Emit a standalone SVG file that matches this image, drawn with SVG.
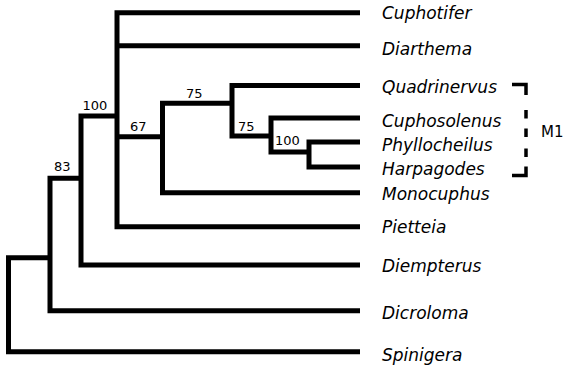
<svg xmlns="http://www.w3.org/2000/svg" width="563" height="367" viewBox="0 0 563 367">
<style>
.br{fill:none;stroke:#000;stroke-width:5;stroke-linejoin:miter;stroke-linecap:butt}
.bk{fill:none;stroke:#000;stroke-width:3.5;stroke-linecap:butt}
.tx{font-family:"DejaVu Sans","Liberation Sans",sans-serif;font-style:italic;font-size:17px;fill:#000}
.nm{font-family:"DejaVu Sans","Liberation Sans",sans-serif;font-size:13px;fill:#000}
.m1{font-family:"DejaVu Sans","Liberation Sans",sans-serif;font-size:15px;fill:#000}
</style>
<rect width="563" height="367" fill="#fff"/>
<g id="connectors">
<path class="br" d="M360 142 H309 V167 H360"/>
<path class="br" d="M360 118 H271 V152 H309"/>
<path class="br" d="M360 85.5 H232 V136 H271"/>
<path class="br" d="M232 103.3 H162.5 V192.7 H360"/>
<path class="br" d="M360 12.7 H117 V226.7 H360"/>
<path class="br" d="M117 45.8 H360"/>
<path class="br" d="M117 136.7 H162.5"/>
<path class="br" d="M117 116 H81 V265 H360"/>
<path class="br" d="M81 178.3 H50 V310.7 H360"/>
<path class="br" d="M50 257.7 H8.5 V351.7 H360"/>
</g>
<g id="supports">
<text class="nm" x="82.5" y="110">100</text>
<text class="nm" x="54" y="170.5">83</text>
<text class="nm" x="130" y="130.5">67</text>
<text class="nm" x="186" y="97.5">75</text>
<text class="nm" x="238" y="131">75</text>
<text class="nm" x="275" y="145">100</text>
</g>
<g id="taxon-cuphotifer"><text class="tx" x="382" y="19">Cuphotifer</text></g>
<g id="taxon-diarthema"><text class="tx" x="382" y="55">Diarthema</text></g>
<g id="taxon-quadrinervus"><text class="tx" x="382" y="93">Quadrinervus</text></g>
<g id="taxon-cuphosolenus"><text class="tx" x="382" y="127.3">Cuphosolenus</text></g>
<g id="taxon-phyllocheilus"><text class="tx" x="382" y="150.7">Phyllocheilus</text></g>
<g id="taxon-harpagodes"><text class="tx" x="382" y="175">Harpagodes</text></g>
<g id="taxon-monocuphus"><text class="tx" x="382" y="200">Monocuphus</text></g>
<g id="taxon-pietteia"><text class="tx" x="382" y="233.3">Pietteia</text></g>
<g id="taxon-diempterus"><text class="tx" x="382" y="271.7">Diempterus</text></g>
<g id="taxon-dicroloma"><text class="tx" x="382" y="319.3">Dicroloma</text></g>
<g id="taxon-spinigera"><text class="tx" x="382" y="360.5">Spinigera</text></g>
<g id="bracket-m1">
<path class="bk" d="M512 84.5 H526 V95 M526 110 V118.5 M526 128.5 V137 M526 148.5 V157 M526 166.5 V175.5 H512"/>
<text class="m1" x="541" y="136.7">M1</text>
</g>
</svg>
